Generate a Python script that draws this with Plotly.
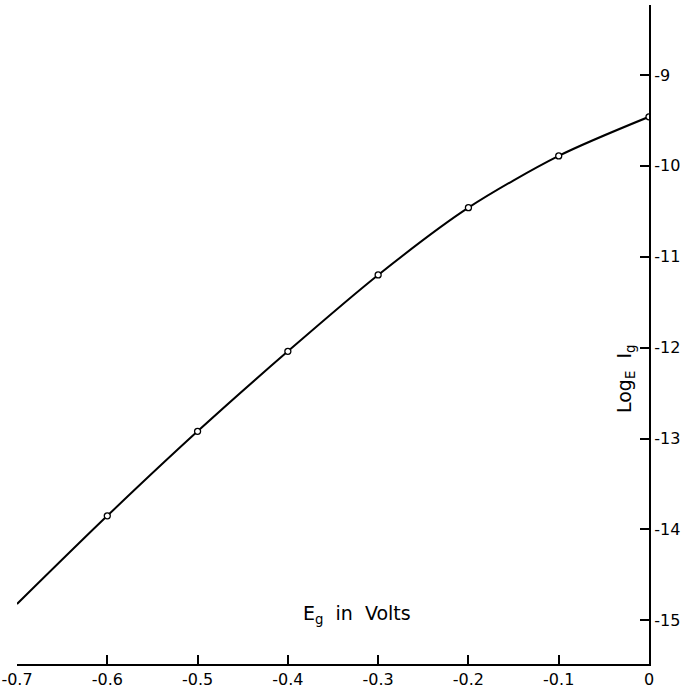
import plotly.graph_objects as go

# Measured points (grid voltage in volts, natural log of grid current)
eg_points = [-0.6, -0.5, -0.4, -0.3, -0.2, -0.1, 0.0]
log_ig_points = [-13.85, -12.92, -12.04, -11.20, -10.46, -9.89, -9.46]

# Smooth curve drawn through the points, extended to the left edge
curve_eg = [-0.7, -0.6, -0.5, -0.4, -0.3, -0.2, -0.1, 0.0]
curve_log_ig = [-14.82, -13.85, -12.92, -12.04, -11.20, -10.46, -9.89, -9.46]

x_tickvals = [-0.7, -0.6, -0.5, -0.4, -0.3, -0.2, -0.1, 0.0]
x_ticktext = ["-0.7", "-0.6", "-0.5", "-0.4", "-0.3", "-0.2", "-0.1", "0"]
y_tickvals = [-9, -10, -11, -12, -13, -14, -15]
y_ticktext = ["-9", "-10", "-11", "-12", "-13", "-14", "-15"]

FONT = "DejaVu Sans"

fig = go.Figure()
fig.add_trace(go.Scatter(
    x=curve_eg, y=curve_log_ig, mode="lines",
    line=dict(color="black", width=2, shape="spline", smoothing=0.8),
    hoverinfo="skip", showlegend=False,
))
fig.add_trace(go.Scatter(
    x=eg_points, y=log_ig_points, mode="markers",
    marker=dict(symbol="circle", size=6, color="white",
                line=dict(color="black", width=1.3)),
    showlegend=False,
))

fig.update_layout(
    width=681, height=689,
    margin=dict(l=17, r=32, t=5, b=25),
    paper_bgcolor="white", plot_bgcolor="white",
    font=dict(family=FONT, color="black", size=16),
    xaxis=dict(
        range=[-0.7, 0.0], showgrid=False, zeroline=False, automargin=False,
        showline=True, linecolor="black", linewidth=2,
        ticks="inside", ticklen=9, tickwidth=1.5, tickcolor="black",
        tickvals=x_tickvals, ticktext=x_ticktext,
        tickfont=dict(family=FONT, size=16),
    ),
    yaxis=dict(
        range=[-15.48, -8.23], side="right", showgrid=False, zeroline=False,
        automargin=False,
        showline=True, linecolor="black", linewidth=2,
        ticks="inside", ticklen=9, tickwidth=1.5, tickcolor="black",
        tickvals=y_tickvals, ticktext=y_ticktext,
        tickfont=dict(family=FONT, size=16),
    ),
    annotations=[
        dict(text="E<sub>g</sub>  in  Volts", x=-0.323, y=-14.93,
             xref="x", yref="y", showarrow=False,
             font=dict(family=FONT, size=19)),
        dict(text="Log<sub>E</sub>  I<sub>g</sub>", x=-0.026, y=-12.35,
             xref="x", yref="y", showarrow=False, textangle=-90,
             font=dict(family=FONT, size=19)),
    ],
)

fig.write_html(
    "out.html",
    config={"displayModeBar": False},
    post_script="document.body.style.margin='0';document.body.style.overflow='hidden';",
)
